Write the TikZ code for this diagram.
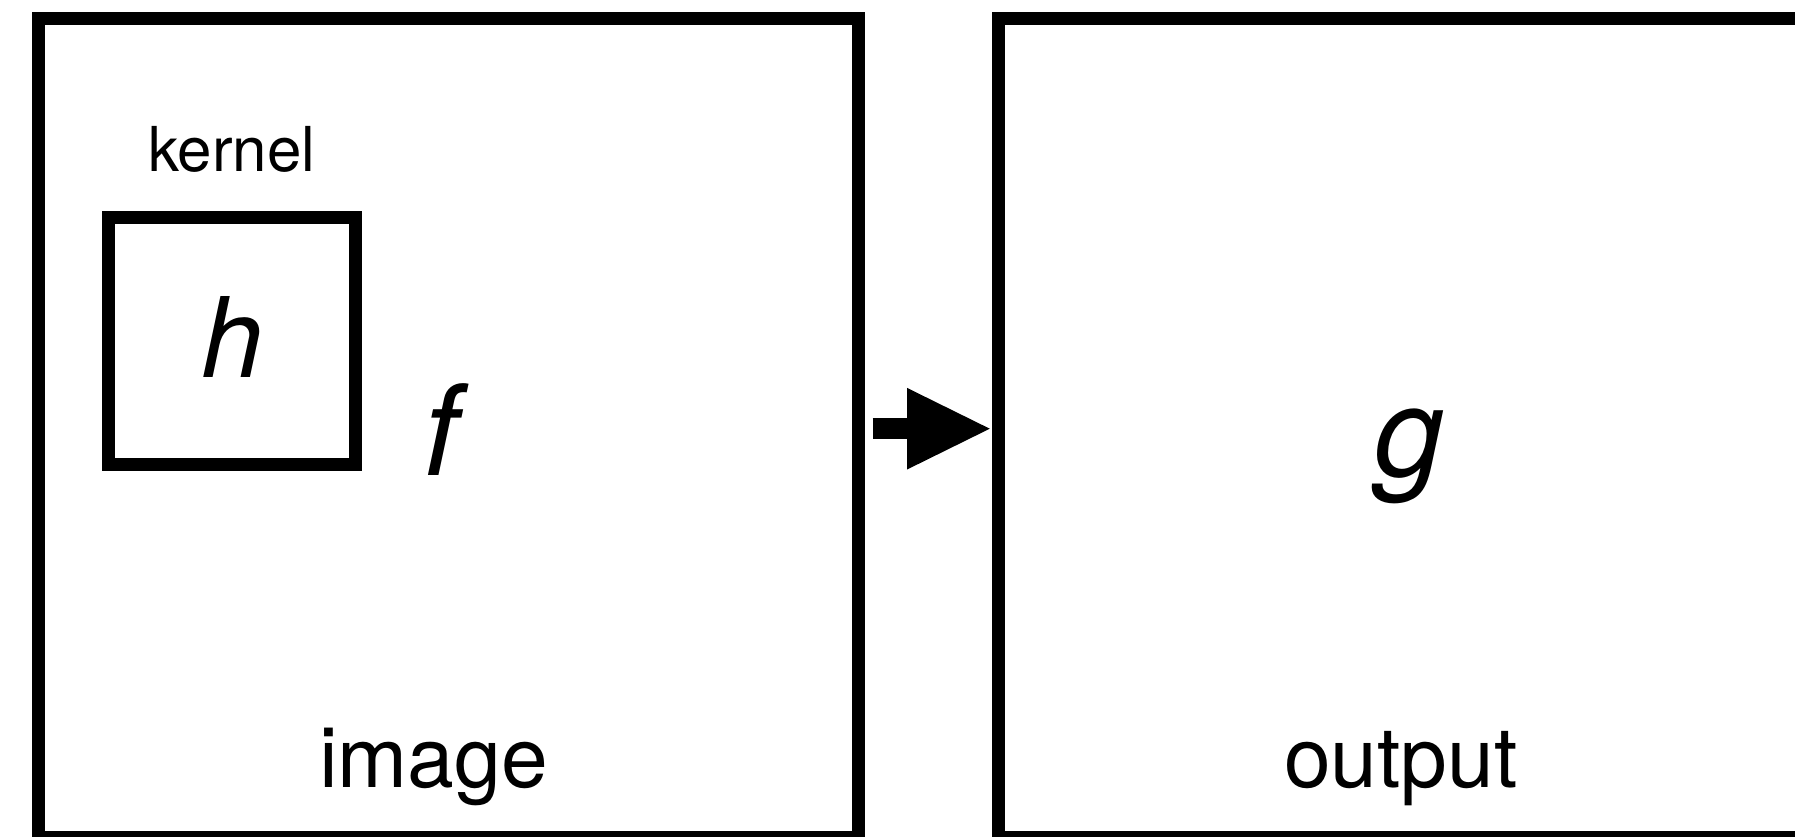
\documentclass[tikz,border=0pt]{standalone}
\usepackage{fontspec}
\setmainfont{TeX Gyre Heros}
\usetikzlibrary{arrows.meta}
\tikzset{
  frame/.style={draw=black, line width=0.13cm, inner sep=0pt, outer sep=0pt, rectangle},
  lbl/.style={inner sep=0pt, outer sep=0pt, anchor=base, text=black},
  blockarrow/.style={line width=0.207cm, -{Triangle[length=0.827cm, width=0.816cm, line width=0pt]}}
}
\begin{document}
\begin{tikzpicture}[x=0.01cm, y=-0.01cm]
\useasboundingbox (0,0) rectangle (1795,836);
\fill[white] (0,0) rectangle (1795,836);
% boxes
\node[frame, minimum width=8.2cm, minimum height=8.19cm] (img) at (448.5,428) {};
\node[frame, minimum width=8.2cm, minimum height=8.19cm] (out) at (1409,428) {};
\node[frame, minimum width=2.467cm, minimum height=2.465cm] (ker) at (232.15,340.95) {};
% labels
\node[lbl, font=\fontsize{17.6}{20}\selectfont] (kerlbl) at (231.7,171.7) {kernel};
\node[lbl, font=\fontsize{31.6}{36}\selectfont\itshape] (hlbl) at (232,377.7) {h};
\node[lbl, font=\fontsize{35.7}{40}\selectfont\itshape] (flbl) at (441,475) {f};
\node[lbl, font=\fontsize{35.7}{40}\selectfont\itshape] (glbl) at (1409,476) {g};
\node[lbl, font=\fontsize{23.9}{28}\selectfont] (imglbl) at (433.7,787.3) {image};
\node[lbl, font=\fontsize{23.9}{28}\selectfont] (outlbl) at (1400.8,787.3) {output};
% arrow
\coordinate (astart) at ([xshift=0.138cm, yshift=-0.007cm]img.east);
\coordinate (aend) at ([xshift=-0.09cm, yshift=-0.007cm]out.west);
\draw[blockarrow] (astart) -- (aend);
\end{tikzpicture}
\end{document}
